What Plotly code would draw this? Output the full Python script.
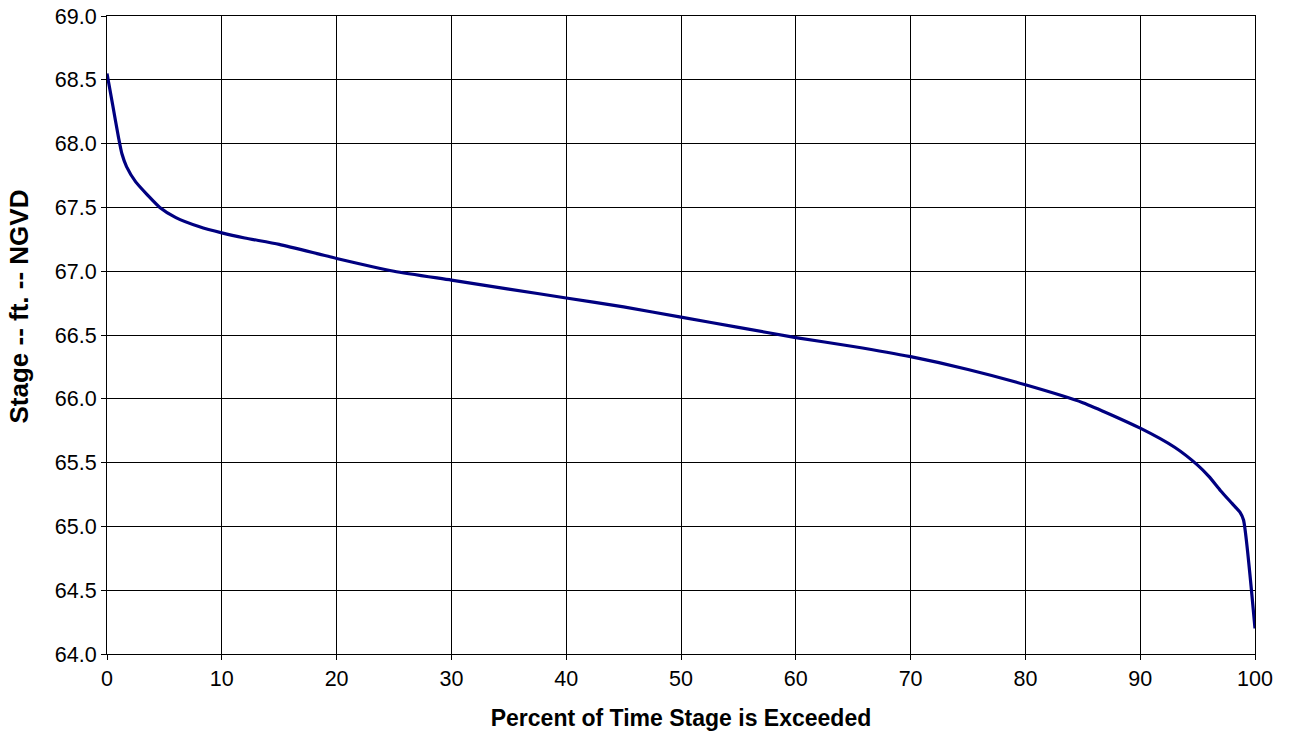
import plotly.graph_objects as go

percent = [0, 0.5, 1.0, 1.3, 1.7, 2.5, 3.5, 4.6, 6, 8, 10, 12, 15, 20, 25, 30, 35, 40, 45, 50,
           55, 60, 65, 70, 75, 80, 85, 90, 93, 95, 96, 97, 98, 98.7, 99, 100]
stage = [68.55, 68.3, 68.05, 67.92, 67.82, 67.7, 67.6, 67.5, 67.42, 67.35, 67.3, 67.26, 67.21, 67.1,
         67.0, 66.93, 66.86, 66.79, 66.72, 66.64, 66.56, 66.48, 66.41, 66.33, 66.23, 66.11,
         65.97, 65.77, 65.62, 65.48, 65.39, 65.28, 65.18, 65.11, 65.05, 64.2]

fig = go.Figure(go.Scatter(x=percent, y=stage, mode="lines",
                           line=dict(color="#000080", width=3.2, shape="spline", smoothing=0.6),
                           showlegend=False))

font_fam = "Arial, Liberation Sans, sans-serif"
axis_common = dict(showline=True, linecolor="#000000", linewidth=1, mirror=True,
                   showgrid=True, gridcolor="#000000", gridwidth=1,
                   ticks="outside", ticklen=5, tickcolor="#000000",
                   tickfont=dict(family=font_fam, size=21.5, color="#000000"),
                   ticklabeloverflow="allow",
                   zeroline=False, automargin=False)

fig.update_xaxes(range=[0, 100], dtick=10, tick0=0,
                 title=dict(text="<b>Percent of Time Stage is Exceeded</b>",
                            font=dict(family=font_fam, size=23, color="#000000"),
                            standoff=20),
                 **axis_common)
fig.update_yaxes(range=[64, 69], dtick=0.5, tick0=64, tickformat=".1f",
                 **axis_common)

fig.add_annotation(text="<b>Stage -- ft. -- NGVD</b>", xref="paper", yref="paper",
                   x=-0.077, y=0.544, xanchor="center", yanchor="middle",
                   textangle=-90, showarrow=False,
                   font=dict(family=font_fam, size=26, color="#000000"))

fig.update_layout(width=1295, height=742, margin=dict(l=107, r=40, t=16, b=88),
                  plot_bgcolor="#ffffff", paper_bgcolor="#ffffff")

fig.write_html("out.html", config={"displayModeBar": False},
               post_script="document.body.style.margin='0';document.body.style.padding='0';")
